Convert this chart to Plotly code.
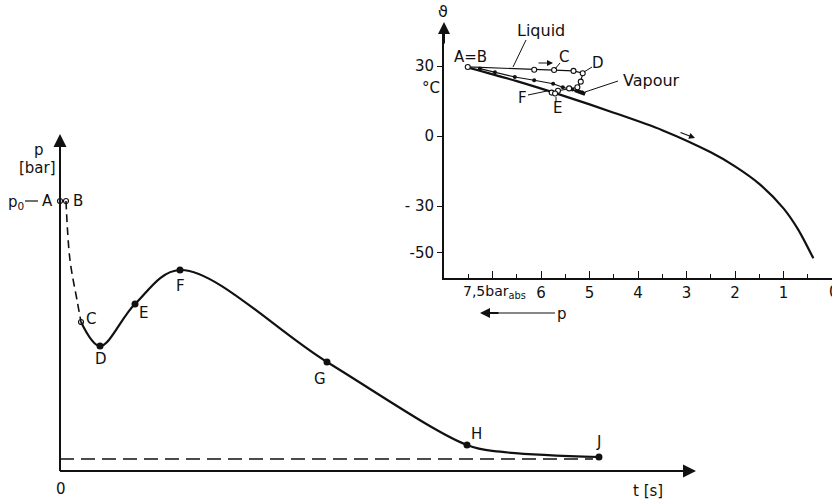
import plotly.graph_objects as go

W, H = 832, 501

# ---------------- main p–t diagram (no scale values in original; arbitrary units) ----------
t_dash = [0.111, 0.185, 0.315, 0.389]          # B -> C (dashed)
p_dash = [10.0, 7.815, 6.33, 5.519]
t_curve = [0.389, 0.741, 1.389, 2.222, 4.944, 7.537, 8.15, 9.981]   # C..J
p_curve = [5.519, 4.630, 6.185, 7.444, 4.037, 0.963, 0.715, 0.519]
t_open = [0.0, 0.111, 0.389]                    # A, B, C
p_open = [10.0, 10.0, 5.519]
t_filled = [0.741, 1.389, 2.222, 4.944, 7.537, 9.981]   # D, E, F, G, H, J
p_filled = [4.630, 6.185, 7.444, 4.037, 0.963, 0.519]
p_base = [0.444, 0.444]
t_base = [0.0, 9.87]

# ---------------- inset  ϑ–p diagram --------------------------------------------------------
p_sat = [7.5, 6.5, 5.5, 4.5, 3.5, 2.5, 2.0, 1.5, 1.0, 0.7, 0.385]
T_sat = [29.3, 23.5, 17.0, 10.0, 2.5, -7.0, -13.0, -20.5, -31.0, -40.0, -52.4]
p_liq = [7.51, 6.14, 5.73, 5.33, 5.14, 5.18, 5.25, 5.42, 5.65, 5.78, 5.71]
T_liq = [29.6, 28.4, 28.3, 27.9, 26.9, 23.3, 20.9, 20.4, 19.4, 18.6, 18.2]
p_vap = [7.26, 6.95, 6.54, 6.14, 5.75, 5.55, 5.35, 5.15]
T_vap = [28.9, 27.3, 25.3, 23.9, 22.4, 20.9, 19.9, 18.6]
p_vap_end = [5.30, 5.09]
T_vap_end = [19.7, 18.0]
x_tickvals = [7, 6, 5, 4, 3, 2, 1, 0]
x_ticktext = ["", "6", "5", "4", "3", "2", "1", "0"]
y_tickvals = [30, 0, -30, -50]
y_ticktext = ["30", "0", "- 30", "-50"]

FONT = "DejaVu Sans"
BLACK = "#111111"


def P(x, y):
    return x / W, 1 - y / H


fig = go.Figure()

# main curves
fig.add_trace(go.Scatter(x=t_dash, y=p_dash, mode="lines", line=dict(color=BLACK, width=1.6, dash="8px,5px", shape="spline"),
                         xaxis="x", yaxis="y", hoverinfo="skip"))
fig.add_trace(go.Scatter(x=t_curve, y=p_curve, mode="lines", line=dict(color=BLACK, width=2.2, shape="spline", smoothing=1.0),
                         xaxis="x", yaxis="y", hoverinfo="skip"))
fig.add_trace(go.Scatter(x=t_base, y=p_base, mode="lines", line=dict(color=BLACK, width=1.6, dash="14px,7px"),
                         xaxis="x", yaxis="y", hoverinfo="skip"))
fig.add_trace(go.Scatter(x=t_open, y=p_open, mode="markers",
                         marker=dict(symbol="circle-open", size=5, color=BLACK, line=dict(width=1.2)),
                         xaxis="x", yaxis="y", hoverinfo="skip"))
fig.add_trace(go.Scatter(x=t_filled, y=p_filled, mode="markers",
                         marker=dict(symbol="circle", size=7, color=BLACK),
                         xaxis="x", yaxis="y", hoverinfo="skip"))

# inset curves
fig.add_trace(go.Scatter(x=p_sat, y=T_sat, mode="lines", line=dict(color=BLACK, width=2.2, shape="spline", smoothing=0.8),
                         xaxis="x2", yaxis="y2", hoverinfo="skip"))
fig.add_trace(go.Scatter(x=p_vap, y=T_vap, mode="lines+markers", line=dict(color=BLACK, width=1.2),
                         marker=dict(symbol="circle", size=4, color=BLACK),
                         xaxis="x2", yaxis="y2", hoverinfo="skip"))
fig.add_trace(go.Scatter(x=p_vap_end, y=T_vap_end, mode="lines", line=dict(color=BLACK, width=4),
                         xaxis="x2", yaxis="y2", hoverinfo="skip"))
fig.add_trace(go.Scatter(x=p_liq, y=T_liq, mode="lines+markers", line=dict(color=BLACK, width=1.2),
                         marker=dict(symbol="circle", size=5, color="white", line=dict(color=BLACK, width=1.1)),
                         xaxis="x2", yaxis="y2", hoverinfo="skip"))

shapes = []
annotations = []


def text(s, x, y, size=15, xanchor="center"):
    xp, yp = P(x, y)
    annotations.append(dict(text=s, x=xp, y=yp, xref="paper", yref="paper", showarrow=False,
                            xanchor=xanchor, yanchor="middle", font=dict(family=FONT, size=size, color=BLACK)))


def seg(x0, y0, x1, y1, w=1.0):
    a, b = P(x0, y0)
    c, d = P(x1, y1)
    shapes.append(dict(type="line", xref="paper", yref="paper", x0=a, y0=b, x1=c, y1=d,
                       line=dict(color=BLACK, width=w)))


def arrow(x0, y0, x1, y1, w=1.5, size=1.2, head=2):
    xp, yp = P(x1, y1)
    annotations.append(dict(text="", x=xp, y=yp, xref="paper", yref="paper", showarrow=True,
                            ax=x0 - x1, ay=y0 - y1, arrowhead=head, arrowsize=size, arrowwidth=w,
                            arrowcolor=BLACK))


# main axes (drawn as arrows)
seg(60, 471, 60, 150, 2)
arrow(60, 160, 60, 134, w=2, size=1.3)
seg(60, 471, 690, 471, 2)
arrow(670, 471, 696, 471, w=2, size=1.3)

# main labels
text("p", 39, 150)
text("[bar]", 37, 168)
text("p<sub>0</sub>", 16, 202)
seg(25, 201, 38, 201, 1.2)
text("A", 47, 201)
text("B", 78, 201)
text("C", 91, 319)
text("D", 101, 359)
text("E", 143, 313)
text("F", 180, 286)
text("G", 320, 379)
text("H", 476, 434)
text("J", 598, 442)
text("0", 61, 489)
text("t [s]", 648, 491)

# inset labels
text("ϑ", 443, 11, size=16)
arrow(444, 45, 444, 22, w=2, size=1.2)
text("°C", 431, 88)
text("7,5bar<sub>abs</sub>", 461, 292, size=14, xanchor="left")
text("0", 834, 292)
text("A=B", 470, 57)
text("Liquid", 541, 30, size=16)
seg(526, 40, 513, 67)
text("C", 564, 57)
seg(560, 63, 555, 69)
text("D", 598, 63)
seg(592, 67, 584, 72)
text("Vapour", 651, 80, size=16)
seg(618, 81, 585, 92)
text("F", 522, 98)
seg(528, 95, 547, 91)
text("E", 557, 108)
seg(556, 97, 556, 102)
arrow(537, 63, 553, 63, w=1.2, size=1.0)
arrow(679, 132, 695, 138, w=1.2, size=1.0)
seg(495, 313, 555, 313, 1.2)
arrow(500, 313, 480, 313, w=2, size=1.0)
text("p", 562, 314)

axis_hidden = dict(visible=False, showgrid=False, zeroline=False)
fig.update_layout(
    width=W, height=H, autosize=False,
    margin=dict(l=0, r=0, t=0, b=0),
    paper_bgcolor="white", plot_bgcolor="rgba(0,0,0,0)",
    showlegend=False,
    font=dict(family=FONT, size=15, color=BLACK),
    xaxis=dict(domain=[0, 1], range=[(0 - 60) / 54, (W - 60) / 54], **axis_hidden),
    yaxis=dict(domain=[0, 1], range=[(471 - H) / 27, 471 / 27], **axis_hidden),
    xaxis2=dict(domain=[444 / W, 1], range=[8, 0], anchor="y2", showgrid=False, zeroline=False,
                showline=True, linecolor=BLACK, linewidth=2,
                ticks="inside", ticklen=7, tickwidth=1.3, tickcolor=BLACK,
                tickvals=x_tickvals, ticktext=x_ticktext,
                minor=dict(dtick=0.5, ticks="inside", ticklen=4, tickwidth=1.1, tickcolor=BLACK),
                tickfont=dict(family=FONT, size=15, color=BLACK)),
    yaxis2=dict(domain=[1 - 278 / H, 1 - 30 / H], range=[(136 - 278) / (70 / 30), (136 - 30) / (70 / 30)],
                anchor="x2", showgrid=False, zeroline=False,
                showline=True, linecolor=BLACK, linewidth=2,
                ticks="outside", ticklen=5, tickwidth=1.3, tickcolor=BLACK,
                tickvals=y_tickvals, ticktext=y_ticktext,
                tickfont=dict(family=FONT, size=15, color=BLACK)),
    shapes=shapes,
    annotations=annotations,
)

fig.write_html("out.html", config={"displayModeBar": False},
               post_script="document.body.style.margin='0';")
